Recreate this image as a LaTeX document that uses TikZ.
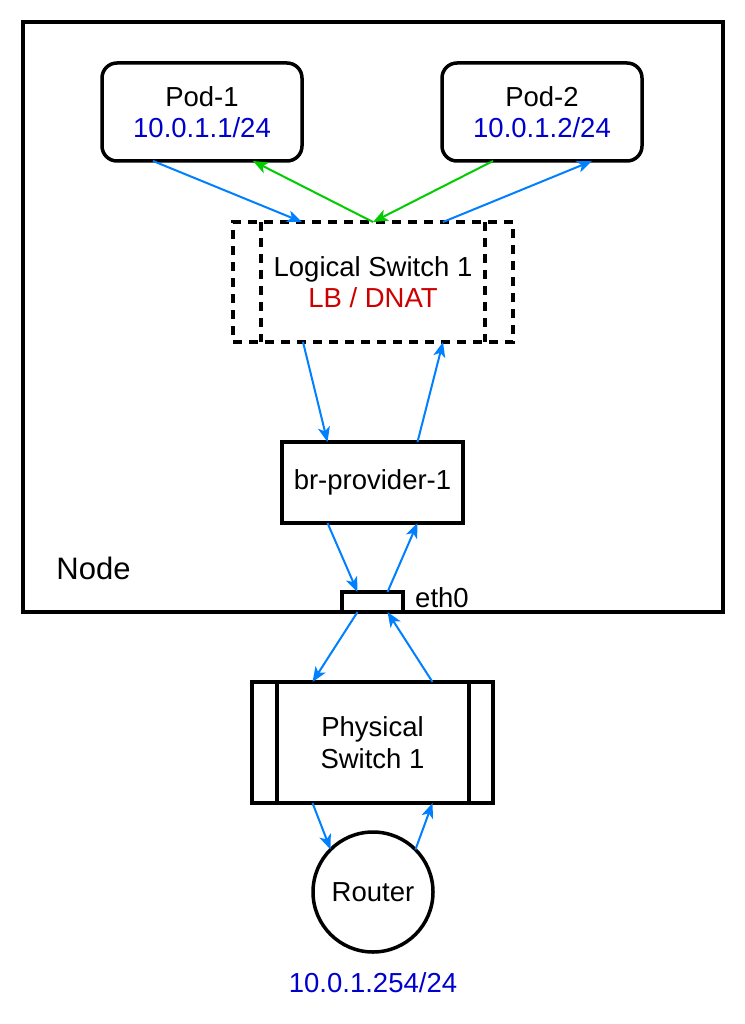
\documentclass[tikz,border=0pt]{standalone}
\usepackage{fontspec}
\setmainfont{Liberation Sans}
\usetikzlibrary{arrows.meta}
\definecolor{flowblue}{RGB}{0,127,255}
\definecolor{flowgreen}{RGB}{0,204,0}
\definecolor{ipblue}{RGB}{0,0,204}
\definecolor{nattext}{RGB}{204,0,0}
\begin{document}
\begin{tikzpicture}[x=1pt,y=-1pt,
  every node/.style={font=\fontsize{27.5}{31.5}\selectfont, inner sep=0pt, outer sep=0pt},
  box/.style={draw, line width=3.5pt, fill=white, align=center},
  podbox/.style={box, rounded corners=15pt, minimum width=200pt, minimum height=98pt},
  lsbox/.style={draw, line width=3.5pt, dash pattern=on 9pt off 7pt, align=center, minimum width=280pt, minimum height=120pt},
  flow/.style={line width=2pt, -{Stealth[length=15pt,width=12pt,inset=4pt]}},
  bflow/.style={flow, draw=flowblue},
  gflow/.style={flow, draw=flowgreen}
]
\useasboundingbox (0,0) rectangle (744,1024);
% outer node
\node[draw, line width=3.5pt, minimum width=700pt, minimum height=590pt] (nodebox) at (373,317) {};
\node[font=\fontsize{31}{35}\selectfont] (nodelbl) at (93.5,568) {Node};

% pods
\node[podbox] (pod1) at (202,112) {Pod-1\\\textcolor{ipblue}{10.0.1.1/24}};
\node[podbox] (pod2) at (542,112) {Pod-2\\\textcolor{ipblue}{10.0.1.2/24}};

% logical switch
\node[lsbox] (ls) at (373,282) {Logical Switch 1\\\textcolor{nattext}{LB / DNAT}};
\draw[line width=3.5pt, dash pattern=on 9pt off 7pt] ([xshift=28pt]ls.north west) -- ([xshift=28pt]ls.south west);
\draw[line width=3.5pt, dash pattern=on 9pt off 7pt] ([xshift=-28pt]ls.north east) -- ([xshift=-28pt]ls.south east);

% bridge
\node[box, minimum width=181pt, minimum height=81pt] (br) at (372.5,482.5) {br-provider-1};

% eth0
\node[box, minimum width=61pt, minimum height=20pt] (eth) at (372.5,602) {};
\node (ethlbl) at (442,598) {eth0};

% physical switch
\node[box, minimum width=241pt, minimum height=121pt] (ps) at (372.5,742.5) {Physical\\Switch 1};
\draw[line width=3.5pt] ([xshift=25pt]ps.north west) -- ([xshift=25pt]ps.south west);
\draw[line width=3.5pt] ([xshift=-24pt]ps.north east) -- ([xshift=-24pt]ps.south east);

% router
\node[draw, line width=3.5pt, circle, minimum size=120pt] (router) at (373,892) {Router};
\node (routerip) at (373,983) {\textcolor{ipblue}{10.0.1.254/24}};

% flows pods <-> logical switch
\draw[bflow] ([xshift=-49pt]pod1.south) -- ([xshift=-71pt]ls.north);
\draw[gflow] (ls.north) -- ([xshift=51pt]pod1.south);
\draw[gflow] ([xshift=-49pt]pod2.south) -- (ls.north);
\draw[bflow] ([xshift=70pt]ls.north) -- ([xshift=50pt]pod2.south);

% logical switch <-> bridge
\draw[bflow] ([xshift=-70pt]ls.south) -- ([xshift=-45pt]br.north);
\draw[bflow] ([xshift=45pt]br.north) -- ([xshift=70pt]ls.south);

% bridge <-> eth0
\draw[bflow] ([xshift=-45pt]br.south) -- ([xshift=-15pt]eth.north);
\draw[bflow] ([xshift=15pt]eth.north) -- ([xshift=45pt]br.south);

% eth0 <-> physical switch
\draw[bflow] ([xshift=-15pt]eth.south) -- ([xshift=-60pt]ps.north);
\draw[bflow] ([xshift=60pt]ps.north) -- ([xshift=15pt]eth.south);

% physical switch <-> router
\draw[bflow] ([xshift=-60pt]ps.south) -- (router.135);
\draw[bflow] (router.45) -- ([xshift=60pt]ps.south);
\end{tikzpicture}
\end{document}
